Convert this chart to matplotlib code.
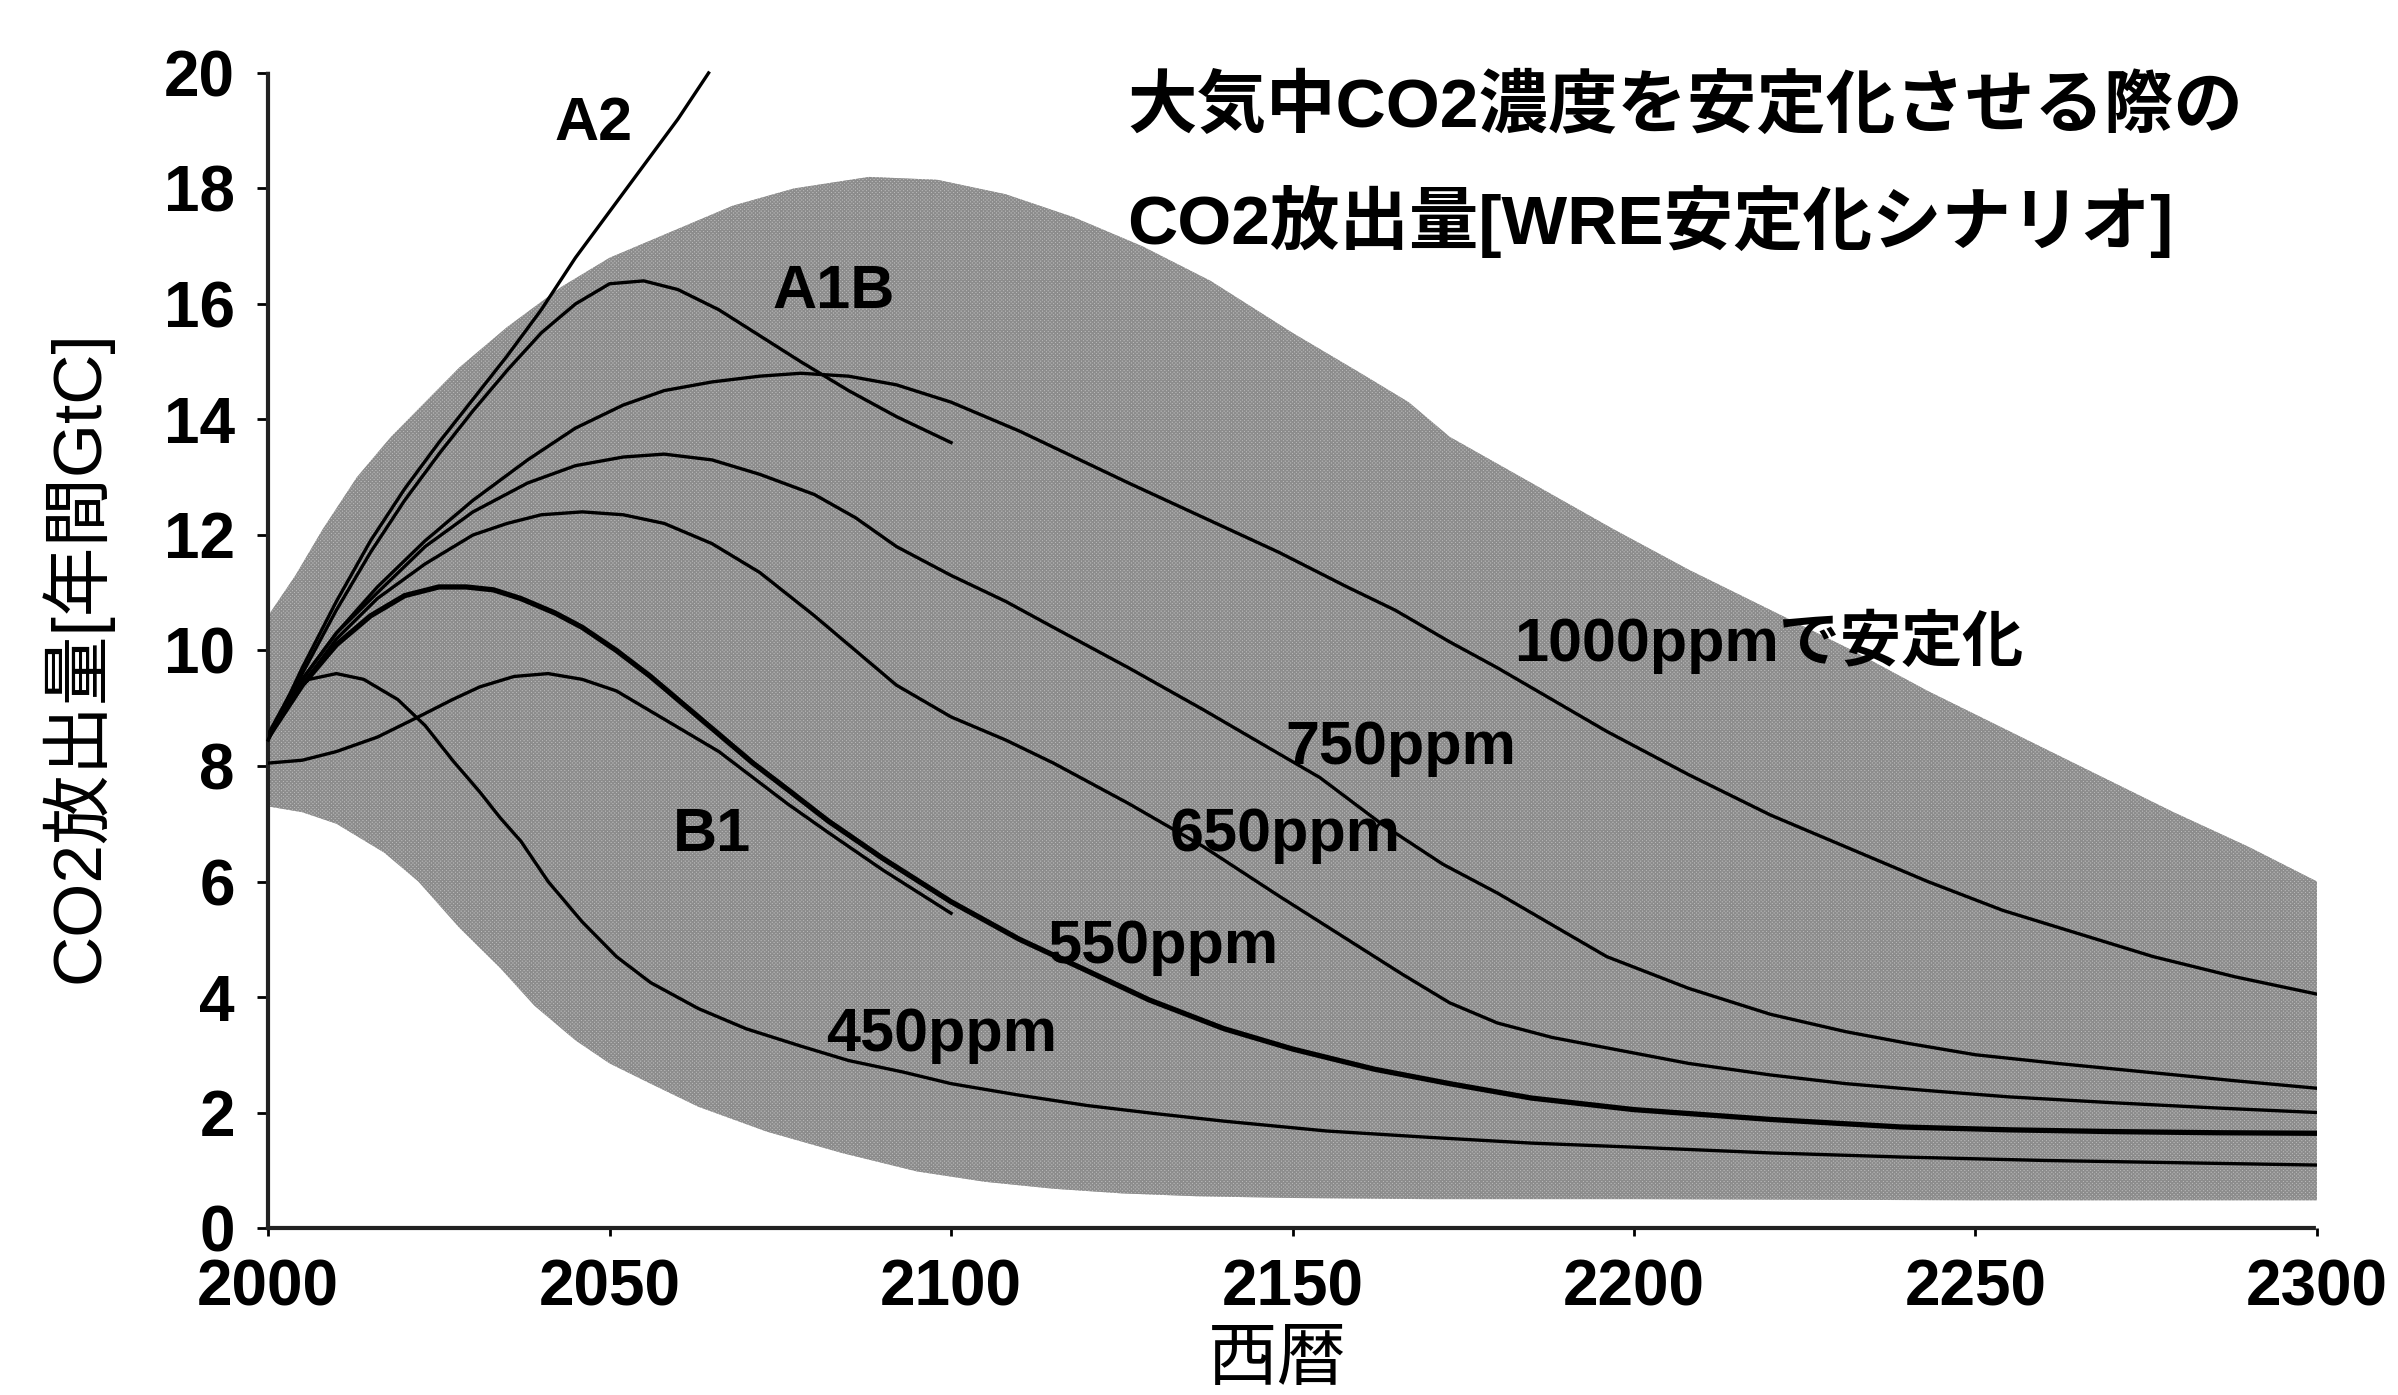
import numpy as np
import matplotlib
matplotlib.use("Agg")
import matplotlib.pyplot as plt

plt.rcParams['font.family'] = ['Liberation Sans', 'Noto Sans CJK JP', 'DejaVu Sans']
plt.rcParams['hatch.linewidth'] = 1.0

# shaded range of scenarios (upper / lower edge)
band_up_years = [2000, 2004, 2008, 2013, 2018, 2023, 2028, 2035, 2043, 2050, 2058, 2068, 2077, 2088,
                 2098, 2108, 2118, 2128, 2138, 2150, 2160, 2167, 2173, 2185, 2197, 2208, 2220, 2232,
                 2243, 2255, 2267, 2279, 2290, 2300]
band_up = [10.6, 11.3, 12.1, 13.0, 13.7, 14.3, 14.9, 15.6, 16.3, 16.8, 17.2, 17.7, 18.0, 18.2,
           18.15, 17.9, 17.5, 17.0, 16.4, 15.5, 14.8, 14.3, 13.7, 12.9, 12.1, 11.4, 10.7, 10.0,
           9.3, 8.6, 7.9, 7.2, 6.6, 6.0]
band_low_years = [2000, 2005, 2010, 2017, 2022, 2028, 2034, 2039, 2045, 2050, 2056, 2063, 2073, 2084,
                  2095, 2105, 2115, 2125, 2136, 2150, 2170, 2200, 2250, 2300]
band_low = [7.3, 7.2, 7.0, 6.5, 6.0, 5.2, 4.5, 3.85, 3.25, 2.85, 2.5, 2.1, 1.67, 1.3,
            0.98, 0.8, 0.68, 0.6, 0.55, 0.52, 0.5, 0.5, 0.48, 0.48]

# SRES scenarios
a2_years = [2000, 2005, 2010, 2015, 2020, 2025, 2030, 2035, 2040, 2045, 2050, 2055, 2060, 2064.5]
a2 = [8.45, 9.7, 10.85, 11.9, 12.8, 13.6, 14.35, 15.1, 15.9, 16.8, 17.6, 18.4, 19.2, 20.0]
a1b_years = [2000, 2005, 2010, 2015, 2020, 2025, 2030, 2035, 2040, 2045, 2050, 2055, 2060, 2066,
             2072, 2078, 2085, 2092, 2100]
a1b = [8.45, 9.6, 10.7, 11.7, 12.6, 13.4, 14.15, 14.85, 15.5, 16.0, 16.35, 16.4, 16.25, 15.9,
       15.45, 15.0, 14.5, 14.05, 13.6]
b1_years = [2000, 2005, 2010, 2016, 2022, 2027, 2031, 2036, 2041, 2046, 2051, 2056, 2061, 2066,
            2071, 2076, 2082, 2090, 2100]
b1 = [8.05, 8.1, 8.25, 8.5, 8.85, 9.15, 9.37, 9.55, 9.6, 9.5, 9.3, 8.95, 8.6, 8.25,
      7.8, 7.35, 6.85, 6.2, 5.45]

# WRE stabilisation paths
s1000_years = [2000, 2005, 2010, 2016, 2023, 2030, 2038, 2045, 2052, 2058, 2065, 2072, 2078, 2085,
               2092, 2100, 2110, 2118, 2126, 2137, 2148, 2158, 2165, 2173, 2180, 2188, 2196, 2208,
               2220, 2232, 2243, 2254, 2265, 2276, 2288, 2300]
s1000 = [8.5, 9.5, 10.3, 11.1, 11.9, 12.6, 13.3, 13.85, 14.25, 14.5, 14.65, 14.75, 14.8, 14.75,
         14.6, 14.3, 13.8, 13.35, 12.9, 12.3, 11.7, 11.1, 10.7, 10.15, 9.7, 9.15, 8.6, 7.85,
         7.15, 6.55, 6.0, 5.5, 5.1, 4.7, 4.35, 4.05]
s750_years = [2000, 2005, 2010, 2016, 2023, 2030, 2038, 2045, 2052, 2058, 2065, 2072, 2080, 2086,
              2092, 2100, 2108, 2115, 2126, 2137, 2146, 2154, 2163, 2172, 2180, 2188, 2196, 2208,
              2220, 2231, 2240, 2250, 2262, 2275, 2288, 2300]
s750 = [8.5, 9.5, 10.3, 11.0, 11.8, 12.4, 12.9, 13.2, 13.35, 13.4, 13.3, 13.05, 12.7, 12.3,
        11.8, 11.3, 10.85, 10.4, 9.7, 8.97, 8.35, 7.8, 7.0, 6.3, 5.8, 5.25, 4.7, 4.15,
        3.7, 3.4, 3.2, 3.0, 2.85, 2.7, 2.55, 2.42]
s650_years = [2000, 2005, 2010, 2016, 2023, 2030, 2035, 2040, 2046, 2052, 2058, 2065, 2072, 2080,
              2086, 2092, 2100, 2108, 2115, 2126, 2137, 2148, 2158, 2166, 2173, 2180, 2188, 2196,
              2208, 2220, 2231, 2243, 2255, 2270, 2285, 2300]
s650 = [8.5, 9.4, 10.2, 10.9, 11.5, 12.0, 12.2, 12.35, 12.4, 12.35, 12.2, 11.85, 11.35, 10.6,
        10.0, 9.4, 8.85, 8.45, 8.05, 7.35, 6.6, 5.75, 5.0, 4.4, 3.9, 3.55, 3.3, 3.12,
        2.85, 2.65, 2.5, 2.38, 2.27, 2.17, 2.08, 2.0]
s550_years = [2000, 2005, 2010, 2015, 2020, 2025, 2029, 2033, 2037, 2042, 2046, 2051, 2056, 2061,
              2066, 2071, 2076, 2082, 2090, 2100, 2110, 2120, 2129, 2140, 2150, 2162, 2173, 2185,
              2200, 2220, 2239, 2255, 2270, 2285, 2300]
s550 = [8.5, 9.4, 10.1, 10.6, 10.95, 11.1, 11.1, 11.05, 10.9, 10.65, 10.4, 10.0, 9.55, 9.05,
        8.55, 8.05, 7.6, 7.05, 6.4, 5.65, 5.0, 4.45, 3.95, 3.45, 3.1, 2.75, 2.5, 2.25,
        2.05, 1.88, 1.75, 1.7, 1.67, 1.65, 1.64]
s450_years = [2000, 2003, 2006, 2010, 2014, 2019, 2023, 2027, 2031, 2034, 2037, 2041, 2046, 2051,
              2056, 2063, 2070, 2078, 2085, 2093, 2100, 2110, 2120, 2130, 2140, 2155, 2170, 2185,
              2200, 2220, 2239, 2260, 2280, 2300]
s450 = [8.55, 9.2, 9.5, 9.6, 9.5, 9.15, 8.7, 8.1, 7.55, 7.1, 6.7, 6.0, 5.3, 4.7,
        4.25, 3.8, 3.45, 3.15, 2.9, 2.7, 2.5, 2.3, 2.12, 1.98, 1.85, 1.68, 1.57, 1.47,
        1.4, 1.3, 1.23, 1.17, 1.13, 1.09]

x_ticks = [2000, 2050, 2100, 2150, 2200, 2250, 2300]
y_ticks = [0, 2, 4, 6, 8, 10, 12, 14, 16, 18, 20]

fig = plt.figure(figsize=(23.98, 13.95), dpi=100)
ax = fig.add_axes([0.1118, 0.1197, 0.8544, 0.828])

# grey range, hatched to look like a printed screen
px = np.r_[band_up_years, band_low_years[::-1]]
py = np.r_[band_up, band_low[::-1]]
ax.fill(px, py, facecolor='#bcbcbc', edgecolor='#8c8c8c', hatch='xxxxxxxxx', linewidth=0, zorder=1)

lw = 2.4
ax.plot(a2_years, a2, color='black', lw=lw, zorder=3, clip_on=False)
ax.plot(a1b_years, a1b, color='black', lw=lw, zorder=3)
ax.plot(b1_years, b1, color='black', lw=lw, zorder=3)
ax.plot(s1000_years, s1000, color='black', lw=lw, zorder=3)
ax.plot(s750_years, s750, color='black', lw=lw, zorder=3)
ax.plot(s650_years, s650, color='black', lw=lw, zorder=3)
ax.plot(s550_years, s550, color='black', lw=3.8, zorder=3)
ax.plot(s450_years, s450, color='black', lw=lw, zorder=3)

# labels on the curves
fs = 44
ax.text(2047.7, 19.1, 'A2', fontsize=fs, fontweight='bold', ha='center', va='center')
ax.text(2082.8, 16.2, 'A1B', fontsize=fs, fontweight='bold', ha='center', va='center')
ax.text(2059.3, 6.8, 'B1', fontsize=fs, fontweight='bold', ha='left', va='center')
ax.text(2182.4, 10.15, '1000ppmで安定化', fontsize=fs, fontweight='bold', ha='left', va='center')
ax.text(2148.9, 8.3, '750ppm', fontsize=fs, fontweight='bold', ha='left', va='center')
ax.text(2132, 6.8, '650ppm', fontsize=fs, fontweight='bold', ha='left', va='center')
ax.text(2114, 4.85, '550ppm', fontsize=fs, fontweight='bold', ha='left', va='center')
ax.text(2081.7, 3.34, '450ppm', fontsize=fs, fontweight='bold', ha='left', va='center')

ax.text(2125.8, 19.4, '大気中CO2濃度を安定化させる際の', fontsize=50, fontweight='bold',
        ha='left', va='center')
ax.text(2125.8, 17.43, 'CO2放出量[WRE安定化シナリオ]', fontsize=50, fontweight='bold',
        ha='left', va='center')

ax.set_xlim(2000, 2300)
ax.set_ylim(0, 20)
ax.set_xticks(x_ticks)
ax.set_yticks(y_ticks)
ax.tick_params(axis='x', direction='out', length=6, width=2, pad=16, labelsize=46)
ax.tick_params(axis='y', direction='out', length=8, width=2, pad=16, labelsize=46)
for lab in ax.get_xticklabels() + ax.get_yticklabels():
    lab.set_fontweight('bold')

for side in ['top', 'right']:
    ax.spines[side].set_visible(False)
for side in ['left', 'bottom']:
    ax.spines[side].set_linestyle((0, (1, 1)))
    ax.spines[side].set_linewidth(3)
    ax.spines[side].set_color('#222222')

fig.text(0.0317, 0.529, 'CO2放出量[年間GtC]', fontsize=50, rotation=90, ha='center', va='center')
fig.text(0.5325, 0.047, '西暦', fontsize=50, ha='center', va='top')

fig.savefig('out.png', dpi=100)
